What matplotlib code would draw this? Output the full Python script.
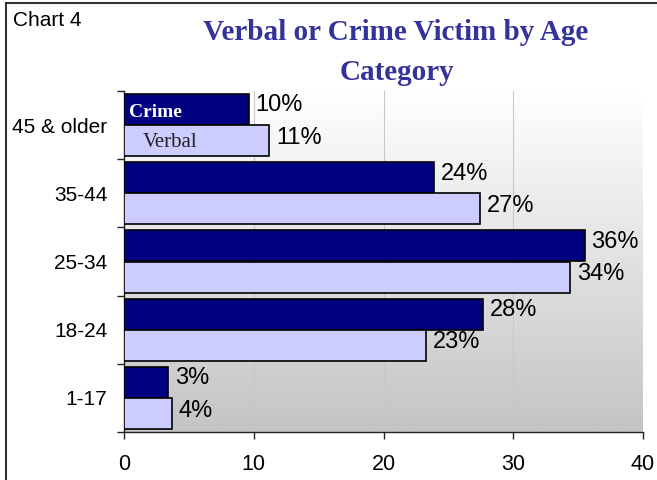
import numpy as np
import matplotlib
matplotlib.use("Agg")
import matplotlib.pyplot as plt
from matplotlib.lines import Line2D
from matplotlib.colors import LinearSegmentedColormap

categories = ["1-17", "18-24", "25-34", "35-44", "45 & older"]
crime = [3.4, 27.7, 35.5, 23.9, 9.6]
verbal = [3.7, 23.3, 34.4, 27.4, 11.2]
crime_labels = ["3%", "28%", "36%", "24%", "10%"]
verbal_labels = ["4%", "23%", "34%", "27%", "11%"]
xticks = [0, 10, 20, 30, 40]

W, H = 657, 480
fig = plt.figure(figsize=(W / 100, H / 100), dpi=100)
fig.patch.set_facecolor("white")

L, R, T, B = 124, 643, 91, 432
ax = fig.add_axes([L / W, 1 - B / H, (R - L) / W, (B - T) / H])

# gradient background: white at top, gray at bottom
grad = np.linspace(0, 1, 256).reshape(-1, 1)
cmap = LinearSegmentedColormap.from_list("g", ["#ffffff", "#c4c4c4"])
ax.imshow(grad, cmap=cmap, aspect="auto", extent=[0, 40, -0.5, 4.5],
          zorder=0, origin="upper")
ax.set_xlim(0, 40)
ax.set_ylim(-0.5, 4.5)

y = np.arange(len(categories))
h = 0.455
off = 0.228
ax.barh(y + off, crime, height=h, color="#000080", edgecolor="black",
        linewidth=1.2, zorder=3)
ax.barh(y - off, verbal, height=h, color="#ccccff", edgecolor="black",
        linewidth=1.2, zorder=3)

for i in range(len(categories)):
    ax.annotate(crime_labels[i], (crime[i], y[i] + off), xytext=(5, 3),
                textcoords="offset points", va="center", ha="left",
                fontsize=17, family="Liberation Sans", color="black", zorder=5)
    ax.annotate(verbal_labels[i], (verbal[i], y[i] - off), xytext=(5, 2),
                textcoords="offset points", va="center", ha="left",
                fontsize=17, family="Liberation Sans", color="black", zorder=5)

# grid
for xv in xticks[1:-1]:
    ax.axvline(xv, color="#c8c8c8", linewidth=0.8, zorder=1)

for s in ["top", "right"]:
    ax.spines[s].set_visible(False)
ax.spines["left"].set_color("#222222")
ax.spines["bottom"].set_color("#222222")
ax.spines["left"].set_linewidth(1.0)
ax.spines["bottom"].set_linewidth(1.0)

ax.set_xticks(xticks)
ax.set_xticklabels([str(v) for v in xticks], fontsize=15.5, family="Liberation Sans")
ax.tick_params(axis="x", direction="out", length=5, width=1, pad=10.5, color="#222222")

ax.set_yticks(y)
ax.set_yticklabels(categories, fontsize=15, family="Liberation Sans")
ax.tick_params(axis="y", which="major", length=0, pad=12)
ax.set_yticks(np.arange(-0.5, 5.0, 1.0), minor=True)
ax.tick_params(axis="y", which="minor", direction="out", length=5, width=1, color="#222222")

# legend-like labels on the top bars
ax.text(0.4, 4 + off - 0.05, "Crime", color="white", fontsize=14,
        fontweight="bold", family="Liberation Serif", va="center", ha="left", zorder=6)
ax.text(1.45, 4 - off - 0.02, "Verbal", color="#222222", fontsize=15,
        family="Liberation Serif", va="center", ha="left", zorder=6)

# title
fig.text(396 / W, 1 - 33 / H, "Verbal or Crime Victim by Age", ha="center",
         va="center", fontsize=21, fontweight="bold", family="Liberation Serif",
         color="#333399")
fig.text(397 / W, 1 - 72 / H, "Category", ha="center", va="center",
         fontsize=21, fontweight="bold", family="Liberation Serif",
         color="#333399")

fig.text(13 / W, 1 - 20 / H, "Chart 4", ha="left", va="center", fontsize=15,
         family="Liberation Sans", color="black")

# border (top and left)
fig.add_artist(Line2D([6 / W, 1], [1 - 3 / H, 1 - 3 / H], color="#333333",
                      linewidth=1.5, transform=fig.transFigure))
fig.add_artist(Line2D([6 / W, 6 / W], [0, 1 - 3 / H], color="#333333",
                      linewidth=1.5, transform=fig.transFigure))

fig.savefig("out.png", dpi=100)
